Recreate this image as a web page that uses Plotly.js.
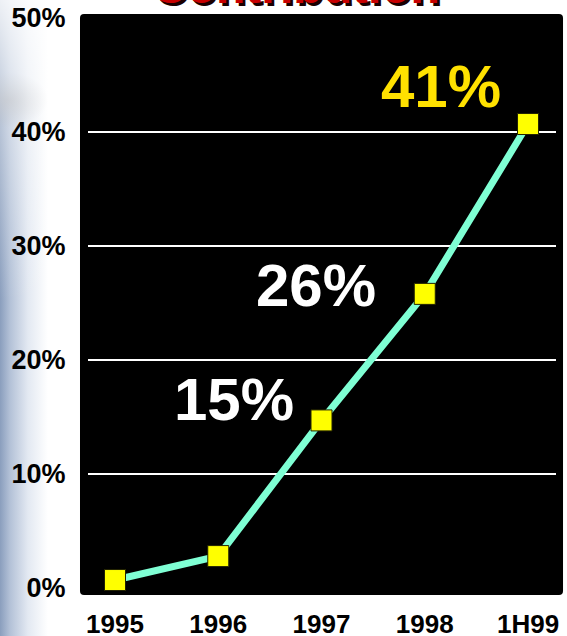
<!DOCTYPE html>
<html>
<head>
<meta charset="utf-8">
<script src="https://cdn.plot.ly/plotly-3.0.1.min.js"></script>
<style>
  html, body { margin: 0; padding: 0; }
  body {
    width: 567px; height: 636px; overflow: hidden;
    background:
      linear-gradient(to bottom, rgba(255,255,255,0.85) 0px, rgba(255,255,255,0.4) 120px, rgba(255,255,255,0) 300px),
      radial-gradient(ellipse 40px 28px at 8px 100px, rgba(140,140,140,0.45), rgba(255,255,255,0) 100%),
      linear-gradient(to right, #8a9ebd 0px, #b3c1d7 10px, #e3e9f2 28px, #ffffff 48px);
  }
  #chart { width: 567px; height: 636px; }
</style>
</head>
<body>
<div id="chart"></div>
<script>
const categories = ["1995", "1996", "1997", "1998", "1H99"];
const contribution = [0.7, 2.8, 14.7, 25.8, 40.7];
const yTickValues = [0, 10, 20, 30, 40, 50];
const yTickLabels = ["0%", "10%", "20%", "30%", "40%", "50%"];
const gridValues = [10, 20, 30, 40];
const callouts = [
  { text: "15%", x: 1.148, y: 16.5, color: "#ffffff" },
  { text: "26%", x: 1.942, y: 26.5, color: "#ffffff" },
  { text: "41%", x: 3.157, y: 44.0, color: "#ffe100" }
];
const titleText = "Contribution";

const FONT = "'Liberation Sans', Arial, sans-serif";

// rounded black panel in paper coords
const x0 = -0.0171, x1 = 1.0150, y0 = -0.0123, y1 = 1.007;
const rx = 4 / 468, ry = 4 / 570;
const panelPath =
  `M ${x0 + rx} ${y0} L ${x1 - rx} ${y0} Q ${x1} ${y0} ${x1} ${y0 + ry} ` +
  `L ${x1} ${y1 - ry} Q ${x1} ${y1} ${x1 - rx} ${y1} ` +
  `L ${x0 + rx} ${y1} Q ${x0} ${y1} ${x0} ${y1 - ry} ` +
  `L ${x0} ${y0 + ry} Q ${x0} ${y0} ${x0 + rx} ${y0} Z`;

const trace = {
  x: categories.map((c, i) => i),
  y: contribution,
  type: "scatter",
  mode: "lines+markers",
  line: { color: "#7fffd4", width: 7 },
  marker: { symbol: "square", size: 21, color: "#ffff00", line: { color: "#222200", width: 1 } },
  hoverinfo: "skip",
  cliponaxis: false
};

const annotations = callouts.map(c => ({
  text: "<b>" + c.text + "</b>",
  x: c.x, y: c.y, xref: "x", yref: "y",
  showarrow: false, xanchor: "center", yanchor: "middle",
  font: { family: FONT, size: 60, color: c.color }
}));

// title with shadow (cut off at top)
annotations.push({
  text: "<b>" + titleText + "</b>",
  x: 0.445, y: 1.0, xref: "paper", yref: "paper",
  xshift: 3, yshift: 0, showarrow: false, xanchor: "center", yanchor: "bottom",
  font: { family: FONT, size: 48, color: "#1a0000" }
});
annotations.push({
  text: "<b>" + titleText + "</b>",
  x: 0.445, y: 1.0, xref: "paper", yref: "paper",
  xshift: 0, yshift: 3, showarrow: false, xanchor: "center", yanchor: "bottom",
  font: { family: FONT, size: 48, color: "#c80000" }
});

const layout = {
  width: 567, height: 636,
  margin: { l: 88, r: 11, t: 18, b: 48, pad: 0 },
  paper_bgcolor: "rgba(0,0,0,0)",
  plot_bgcolor: "rgba(0,0,0,0)",
  showlegend: false,
  xaxis: {
    range: [-0.2615, 4.271],
    tickvals: categories.map((c, i) => i),
    ticktext: categories.map(c => "<b>" + c + "</b>"),
    showgrid: false, zeroline: false, showline: false,
    ticks: "outside", ticklen: 13, tickcolor: "rgba(0,0,0,0)",
    tickfont: { family: FONT, size: 26, color: "#000000" },
    fixedrange: true
  },
  yaxis: {
    range: [0, 50],
    tickvals: yTickValues,
    ticktext: yTickLabels.map(t => "<b>" + t + "</b>"),
    showgrid: false, zeroline: false, showline: false,
    ticks: "outside", ticklen: 16, tickcolor: "rgba(0,0,0,0)",
    tickfont: { family: FONT, size: 27, color: "#000000" },
    fixedrange: true
  },
  yaxis2: {
    range: [0, 50], overlaying: "y",
    tickvals: gridValues, showticklabels: false,
    showgrid: true, gridcolor: "#ffffff", gridwidth: 2,
    zeroline: false, showline: false, ticks: "", fixedrange: true
  },
  shapes: [
    { type: "path", path: panelPath, xref: "paper", yref: "paper",
      fillcolor: "#000000", line: { width: 0 }, layer: "below" }
  ],
  annotations: annotations
};

const gridTrace = { x: [0], y: [0], yaxis: "y2", mode: "markers", marker: { opacity: 0 }, hoverinfo: "skip" };

Plotly.newPlot("chart", [gridTrace, trace], layout, { displayModeBar: false, staticPlot: true });
</script>
</body>
</html>
